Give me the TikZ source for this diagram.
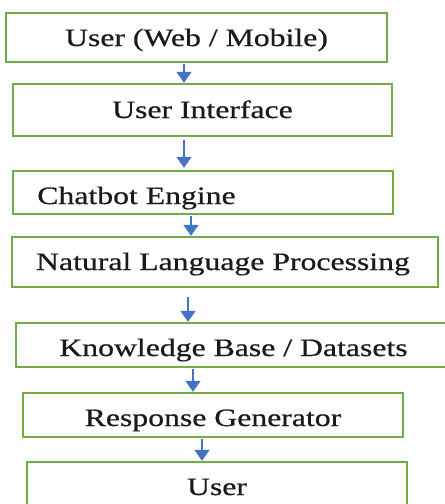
\documentclass[tikz,border=0pt]{standalone}
\usepackage{fontspec}
\newfontfamily\bxfont{Liberation Serif}[FakeStretch=1.27,FakeBold=0.6]
\usetikzlibrary{arrows.meta}
\definecolor{boxgreen}{HTML}{70AD47}
\definecolor{arrblue}{HTML}{4472C4}
\definecolor{txtcol}{HTML}{1A1A1A}
\tikzset{
  flowbox/.style={draw=boxgreen, line width=2.4pt, fill=white, rectangle, inner sep=0pt},
  boxtext/.style={anchor=base, inner sep=0pt, text=txtcol, font=\bxfont\fontsize{25}{30}\selectfont},
  flowarrow/.style={draw=arrblue, line width=1.8pt, -{Triangle[width=15pt,length=11pt]}}
}
\begin{document}
\begin{tikzpicture}[x=1pt,y=-1pt]
\useasboundingbox (0,0) rectangle (445,504);
\clip (0,0) rectangle (445,504);
\fill[white] (0,0) rectangle (445,504);
% boxes
\node[flowbox, minimum width=381pt, minimum height=49pt] (b1) at (196.5,37.5) {};
\node[flowbox, minimum width=379pt, minimum height=52pt] (b2) at (202.5,110) {};
\node[flowbox, minimum width=380pt, minimum height=43pt] (b3) at (203,192.5) {};
\node[flowbox, minimum width=426pt, minimum height=50pt] (b4) at (225,262) {};
\node[flowbox, minimum width=434pt, minimum height=44pt] (b5) at (233,345) {};
\node[flowbox, minimum width=380pt, minimum height=44pt] (b6) at (213,415) {};
\node[flowbox, minimum width=380pt, minimum height=52pt] (b7) at (217,488) {};
% texts
\node[boxtext] (t1) at (196.5,46) {User (Web / Mobile)};
\node[boxtext] (t2) at (202.5,118) {User Interface};
\node[boxtext] (t3) at (136.5,204) {Chatbot Engine};
\node[boxtext] (t4) at (223,270) {Natural Language Processing};
\node[boxtext] (t5) at (233.5,356) {Knowledge Base / Datasets};
\node[boxtext] (t6) at (213,426) {Response Generator};
\node[boxtext] (t7) at (217,495) {User};
% arrow columns
\coordinate (c1) at (184,0);
\coordinate (c2) at (184,0);
\coordinate (c3) at (191,0);
\coordinate (c4) at (188,0);
\coordinate (c5) at (193,0);
\coordinate (c6) at (202,0);
\draw[flowarrow, shorten <=1pt] (b1.south -| c1) -- (b2.north -| c1);
\draw[flowarrow, shorten <=3pt, shorten >=2pt] (b2.south -| c2) -- (b3.north -| c2);
\draw[flowarrow, shorten <=1pt] (b3.south -| c3) -- (b4.north -| c3);
\draw[flowarrow, shorten <=9pt] (b4.south -| c4) -- (b5.north -| c4);
\draw[flowarrow, shorten <=1pt] (b5.south -| c5) -- (b6.north -| c5);
\draw[flowarrow, shorten <=1pt] (b6.south -| c6) -- (b7.north -| c6);
\end{tikzpicture}
\end{document}
